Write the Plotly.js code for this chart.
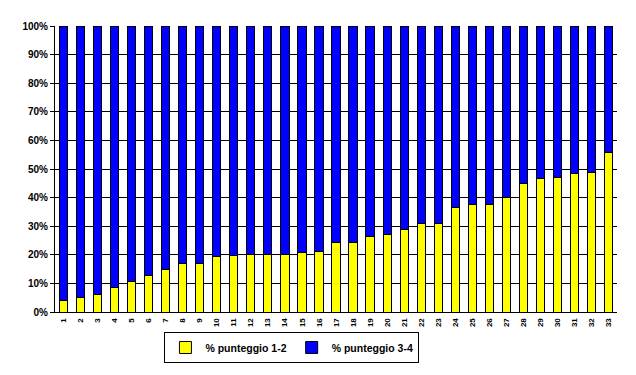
<!DOCTYPE html>
<html>
<head>
<meta charset="utf-8">
<script src="https://cdn.plot.ly/plotly-3.0.1.min.js"></script>
<style>html,body{margin:0;padding:0;background:#fff;}#chart{width:636px;height:375px;}</style>
</head>
<body>
<div id="chart"></div>
<script>
const categories = ["1","2","3","4","5","6","7","8","9","10","11","12","13","14","15","16","17","18","19","20","21","22","23","24","25","26","27","28","29","30","31","32","33"];
const pct12 = [4.1,5.2,6.0,8.4,10.5,12.8,14.7,16.8,16.8,19.5,19.8,20.2,20.2,20.2,20.7,21.0,24.2,24.2,26.3,27.0,28.7,30.8,30.8,36.4,37.5,37.5,39.9,44.8,46.6,46.9,48.3,48.7,55.7];
const pct34 = [95.9,94.8,94.0,91.6,89.5,87.2,85.3,83.2,83.2,80.5,80.2,79.8,79.8,79.8,79.3,79.0,75.8,75.8,73.7,73.0,71.3,69.2,69.2,63.6,62.5,62.5,60.1,55.2,53.4,53.1,51.7,51.3,44.3];
const seriesNames = ["% punteggio 1-2", "% punteggio 3-4"];
const yTicks = [0,10,20,30,40,50,60,70,80,90,100];
const yTickText = yTicks.map(v => v + "%");

const fam = "Liberation Sans, Arial, sans-serif";

const data = [
  {type: "bar", name: seriesNames[0], x: categories, y: pct12,
   marker: {color: "#ffff00", line: {color: "#000", width: 1}}, hoverinfo: "none"},
  {type: "bar", name: seriesNames[1], x: categories, y: pct34,
   marker: {color: "#0000ff", line: {color: "#000", width: 1}}, hoverinfo: "none"}
];

const layout = {
  width: 636, height: 375,
  margin: {l: 55, r: 19, t: 26, b: 63},
  paper_bgcolor: "#fff", plot_bgcolor: "#fff",
  barmode: "stack", bargap: 0.52,
  font: {family: fam, color: "#000", size: 10, weight: "bold"},
  showlegend: true,
  legend: {orientation: "h", xref: "container", yref: "container",
           x: 0.459, xanchor: "center", y: 0.1147, yanchor: "top",
           traceorder: "normal",
           bordercolor: "#000", borderwidth: 1,
           font: {family: fam, size: 10.5, weight: "bold", color: "#000"},
           itemwidth: 30, tracegroupgap: 0},
  xaxis: {type: "category", tickangle: -90, tickfont: {family: fam, size: 8, weight: "bold", color: "#000"},
          showline: true, linecolor: "#000", linewidth: 1, ticks: "", ticklabelstandoff: 2,
          showgrid: false, zeroline: false, fixedrange: true, automargin: false},
  yaxis: {range: [0, 100], tickvals: yTicks, ticktext: yTickText,
          tickfont: {family: fam, size: 10, weight: "bold", color: "#000"},
          showline: true, linecolor: "#000", linewidth: 1, ticks: "outside", ticklen: 4, tickcolor: "#000",
          showgrid: true, gridcolor: "#000", gridwidth: 1, zeroline: false, fixedrange: true, automargin: false}
};

Plotly.newPlot("chart", data, layout, {displayModeBar: false, staticPlot: true});
</script>
</body>
</html>
